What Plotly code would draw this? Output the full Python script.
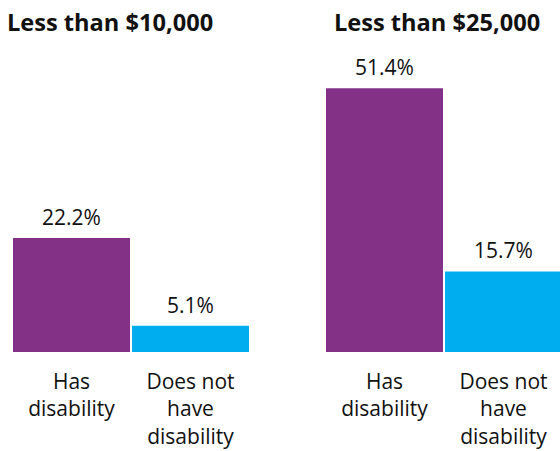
import plotly.graph_objects as go

categories = ["Has<br>disability", "Does not<br>have<br>disability"]
panel_titles = ["Less than $10,000", "Less than $25,000"]
values_10k = [22.2, 5.1]
values_25k = [51.4, 15.7]
labels_10k = ["22.2%", "5.1%"]
labels_25k = ["51.4%", "15.7%"]
colors = ["#833087", "#00ADEE"]

W, H = 560, 451
FONT = "Open Sans"

fig = go.Figure()
fig.add_trace(go.Bar(x=categories, y=values_10k, marker=dict(color=colors, line=dict(width=0)),
                     xaxis="x", yaxis="y", hoverinfo="skip"))
fig.add_trace(go.Bar(x=categories, y=values_25k, marker=dict(color=colors, line=dict(width=0)),
                     xaxis="x2", yaxis="y2", hoverinfo="skip"))

ann = []
for xr, yr, vals, labs in [("x", "y", values_10k, labels_10k), ("x2", "y2", values_25k, labels_25k)]:
    for c, v, l in zip(categories, vals, labs):
        ann.append(dict(x=c, y=v, xref=xr, yref=yr, text=l, showarrow=False,
                        yanchor="bottom", yshift=5, font=dict(size=21, color="#111111", family=FONT)))

ann.append(dict(x=5 / W, y=1 - 4 / H, xref="paper", yref="paper", text="<b>" + panel_titles[0] + "</b>",
                showarrow=False, xanchor="left", yanchor="top", font=dict(size=23.6, color="#111111", family=FONT)))
ann.append(dict(x=332 / W, y=1 - 4 / H, xref="paper", yref="paper", text="<b>" + panel_titles[1] + "</b>",
                showarrow=False, xanchor="left", yanchor="top", font=dict(size=23.6, color="#111111", family=FONT)))

ydom = [(H - 352) / H, (H - 352 + 60 * 5.13) / H]
common_x = dict(showgrid=False, zeroline=False, showline=False, ticks="", fixedrange=True,
                ticklabelstandoff=15, automargin=False,
                tickfont=dict(size=21, color="#111111", family=FONT))
common_y = dict(range=[0, 60], domain=ydom, showgrid=False, zeroline=False, showline=False,
                showticklabels=False, ticks="", fixedrange=True)

fig.update_layout(
    width=W, height=H,
    margin=dict(l=0, r=0, t=0, b=0, autoexpand=False),
    paper_bgcolor="white", plot_bgcolor="white",
    showlegend=False,
    bargap=2 / 119,
    xaxis=dict(domain=[12 / W, 250 / W], range=[-0.5, 1.5], anchor="y", **common_x),
    yaxis=dict(anchor="x", **common_y),
    xaxis2=dict(domain=[325 / W, 1.0], range=[-0.5, -0.5 + 235 / 119], anchor="y2", **common_x),
    yaxis2=dict(anchor="x2", **common_y),
    annotations=ann,
    font=dict(family=FONT),
)

fig.write_html("out.html", config={"displayModeBar": False},
               post_script="document.body.style.margin='0';document.body.style.padding='0';")
